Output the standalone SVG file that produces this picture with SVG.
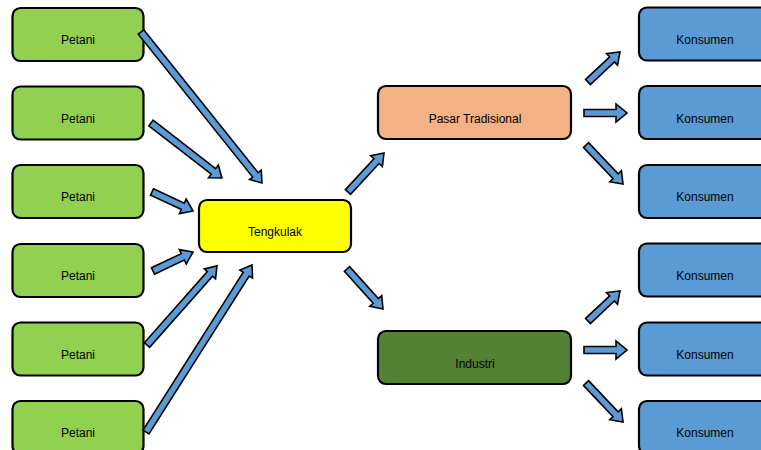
<svg xmlns="http://www.w3.org/2000/svg" width="761" height="450" viewBox="0 0 761 450">
<style>
.box{stroke:#000;stroke-width:2.2}
.petani{fill:#92D050}
.teng{fill:#FFFF00}
.pasar{fill:#F4B183}
.ind{fill:#548235}
.kons{fill:#5B9BD5}
.t{font-family:"Liberation Sans",Arial,sans-serif;font-size:12px;fill:#000;text-anchor:middle}
.arr{fill:#5B9BD5;stroke:#000;stroke-width:1.6;stroke-linejoin:miter}
</style>
<rect width="761" height="450" fill="#fff"/>
<g id="petani1"><rect class="box petani" x="12.5" y="8" width="131" height="53" rx="8"/><text class="t" x="78" y="44">Petani</text></g>
<g id="petani2"><rect class="box petani" x="12.5" y="86.5" width="131" height="53" rx="8"/><text class="t" x="78" y="122.5">Petani</text></g>
<g id="petani3"><rect class="box petani" x="12.5" y="165" width="131" height="53" rx="8"/><text class="t" x="78" y="201">Petani</text></g>
<g id="petani4"><rect class="box petani" x="12.5" y="244" width="131" height="53" rx="8"/><text class="t" x="78" y="280">Petani</text></g>
<g id="petani5"><rect class="box petani" x="12.5" y="322.5" width="131" height="53" rx="8"/><text class="t" x="78" y="358.5">Petani</text></g>
<g id="petani6"><rect class="box petani" x="12.5" y="401" width="131" height="53" rx="8"/><text class="t" x="78" y="437">Petani</text></g>
<g id="tengkulak"><rect class="box teng" x="199" y="200" width="152" height="52" rx="8"/><text class="t" x="275" y="236">Tengkulak</text></g>
<g id="pasar"><rect class="box pasar" x="378" y="86" width="193" height="53" rx="8"/><text class="t" x="475" y="123">Pasar Tradisional</text></g>
<g id="industri"><rect class="box ind" x="378" y="331" width="193" height="53" rx="8"/><text class="t" x="475" y="368">Industri</text></g>
<g id="konsumen1"><rect class="box kons" x="639" y="7.5" width="131" height="53" rx="8"/><text class="t" x="705" y="44">Konsumen</text></g>
<g id="konsumen2"><rect class="box kons" x="639" y="86" width="131" height="53" rx="8"/><text class="t" x="705" y="122.5">Konsumen</text></g>
<g id="konsumen3"><rect class="box kons" x="639" y="165" width="131" height="53" rx="8"/><text class="t" x="705" y="201">Konsumen</text></g>
<g id="konsumen4"><rect class="box kons" x="639" y="243.5" width="131" height="53" rx="8"/><text class="t" x="705" y="280">Konsumen</text></g>
<g id="konsumen5"><rect class="box kons" x="639" y="322.5" width="131" height="53" rx="8"/><text class="t" x="705" y="358.5">Konsumen</text></g>
<g id="konsumen6"><rect class="box kons" x="639" y="401" width="131" height="53" rx="8"/><text class="t" x="705" y="437">Konsumen</text></g>
<g id="connectors">
<path class="arr" transform="translate(141,32) rotate(51.3)" d="M0,-3.5H183V-7.5L193.5,0L183,7.5V3.5H0Z"/>
<path class="arr" transform="translate(151,123) rotate(37.8)" d="M0,-3.5H79V-8L89.8,0L79,8V3.5H0Z"/>
<path class="arr" transform="translate(152,192) rotate(24.9)" d="M0,-3.5H34V-8L45.2,0L34,8V3.5H0Z"/>
<path class="arr" transform="translate(153,271) rotate(-25.4)" d="M0,-3.5H33V-8L44.3,0L33,8V3.5H0Z"/>
<path class="arr" transform="translate(147,345) rotate(-48.5)" d="M0,-3.5H95V-7.5L105.6,0L95,7.5V3.5H0Z"/>
<path class="arr" transform="translate(146,432) rotate(-57.6)" d="M0,-3.5H187V-7.5L197.8,0L187,7.5V3.5H0Z"/>
<path class="arr" transform="translate(348,192) rotate(-47.3)" d="M0,-3.5H42V-8L53.1,0L42,8V3.5H0Z"/>
<path class="arr" transform="translate(347,269) rotate(48)" d="M0,-3.5H43V-8L53.8,0L43,8V3.5H0Z"/>
<path class="arr" transform="translate(588,82) rotate(-43.2)" d="M0,-3.5H33V-8L43.9,0L33,8V3.5H0Z"/>
<path class="arr" transform="translate(584,113)" d="M0,-3.5H32V-9L43,0L32,9V3.5H0Z"/>
<path class="arr" transform="translate(586,145) rotate(46.5)" d="M0,-3.5H43V-8L53.8,0L43,8V3.5H0Z"/>
<path class="arr" transform="translate(588,321) rotate(-43.2)" d="M0,-3.5H33V-8L43.9,0L33,8V3.5H0Z"/>
<path class="arr" transform="translate(584,350)" d="M0,-3.5H32V-9L43,0L32,9V3.5H0Z"/>
<path class="arr" transform="translate(586,383) rotate(46.5)" d="M0,-3.5H43V-8L53.8,0L43,8V3.5H0Z"/>
</g>
</svg>
